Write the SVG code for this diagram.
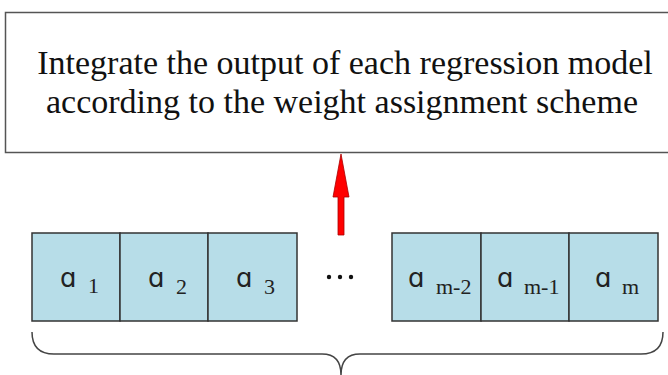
<svg xmlns="http://www.w3.org/2000/svg" width="668" height="375" viewBox="0 0 668 375">
<style>
.box{fill:#fff;stroke:#555;stroke-width:1.5}
.cell{fill:#b7dde8;stroke:#333;stroke-width:1.5}
.t{font-family:"Liberation Serif",serif;font-size:34px;fill:#111;text-anchor:middle}
.a{font-family:"DejaVu Sans","Noto Sans",sans-serif;font-size:26px;fill:#222}
.s{font-family:"Liberation Serif",serif;font-size:22px;fill:#222}
</style>
<rect width="668" height="375" fill="#fff"/>
<g id="integrate">
<rect class="box" x="5.5" y="12.5" width="670" height="140"/>
<text class="t" x="345" y="74">Integrate the output of each regression model</text>
<text class="t" x="342" y="113">according to the weight assignment scheme</text>
</g>
<g id="left-weights">
<rect class="cell" x="32" y="233" width="88" height="88"/>
<rect class="cell" x="120" y="233" width="88" height="88"/>
<rect class="cell" x="208" y="233" width="89" height="88"/>
<text class="a" x="60" y="287">ɑ</text><text class="s" x="88" y="293">1</text>
<text class="a" x="148" y="287">ɑ</text><text class="s" x="176" y="294">2</text>
<text class="a" x="236" y="287">ɑ</text><text class="s" x="264" y="294">3</text>
</g>
<g id="ellipsis">
<circle cx="329" cy="277" r="2.2" fill="#111"/>
<circle cx="340" cy="277" r="2.2" fill="#111"/>
<circle cx="351" cy="277" r="2.2" fill="#111"/>
</g>
<g id="right-weights">
<rect class="cell" x="392" y="233" width="89" height="88"/>
<rect class="cell" x="481" y="233" width="88" height="88"/>
<rect class="cell" x="569" y="233" width="89" height="88"/>
<text class="a" x="408" y="287">ɑ</text><text class="s" x="436" y="294">m-2</text>
<text class="a" x="497" y="287">ɑ</text><text class="s" x="524" y="294">m-1</text>
<text class="a" x="595" y="287">ɑ</text><text class="s" x="622" y="294">m</text>
</g>
<g id="connectors">
<path d="M338,235 L338,197 L333,197 L341,154 L349,197 L344,197 L344,235 Z" fill="#f00" stroke="#a00" stroke-width="0.8"/>
<path d="M32,332 Q32,354 54,354 L322,354 Q341,354 341,375 M663,332 Q663,354 641,354 L360,354 Q341,354 341,375" fill="none" stroke="#444" stroke-width="1.5"/>
</g>
</svg>
